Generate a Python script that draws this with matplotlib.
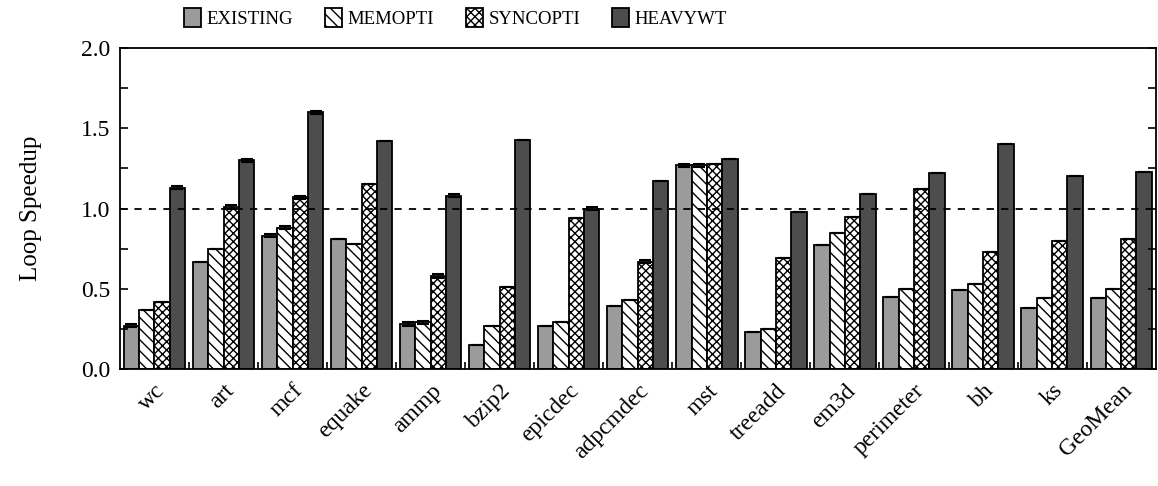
import numpy as np
import matplotlib.pyplot as plt
from matplotlib.ticker import MultipleLocator, FixedLocator

plt.rcParams['font.family'] = ['Liberation Serif', 'DejaVu Serif']
plt.rcParams['hatch.linewidth'] = 1.0

benchmarks = ["wc", "art", "mcf", "equake", "ammp", "bzip2", "epicdec", "adpcmdec",
              "mst", "treeadd", "em3d", "perimeter", "bh", "ks", "GeoMean"]
series = ["EXISTING", "MEMOPTI", "SYNCOPTI", "HEAVYWT"]

existing = [0.27, 0.67, 0.83, 0.81, 0.28, 0.15, 0.27, 0.39, 1.27, 0.23, 0.77, 0.45, 0.49, 0.38, 0.44]
memopti  = [0.37, 0.75, 0.88, 0.78, 0.29, 0.27, 0.29, 0.43, 1.27, 0.25, 0.85, 0.50, 0.53, 0.44, 0.50]
syncopti = [0.42, 1.01, 1.07, 1.15, 0.58, 0.51, 0.94, 0.67, 1.28, 0.69, 0.95, 1.12, 0.73, 0.80, 0.81]
heavywt  = [1.13, 1.30, 1.60, 1.42, 1.08, 1.43, 1.00, 1.17, 1.31, 0.98, 1.09, 1.22, 1.40, 1.20, 1.23]

# small error bars
existing_err = [0.01, 0.0, 0.01, 0.0, 0.01, 0.0, 0.0, 0.0, 0.01, 0.0, 0.0, 0.0, 0.0, 0.0, 0.0]
memopti_err  = [0.0, 0.0, 0.01, 0.0, 0.01, 0.0, 0.0, 0.0, 0.01, 0.0, 0.0, 0.0, 0.0, 0.0, 0.0]
syncopti_err = [0.0, 0.01, 0.01, 0.0, 0.01, 0.0, 0.0, 0.01, 0.0, 0.0, 0.0, 0.0, 0.0, 0.0, 0.0]
heavywt_err  = [0.01, 0.01, 0.01, 0.0, 0.01, 0.0, 0.01, 0.0, 0.0, 0.0, 0.0, 0.0, 0.0, 0.0, 0.0]

values = [existing, memopti, syncopti, heavywt]
errors = [existing_err, memopti_err, syncopti_err, heavywt_err]
colors = ["#9b9b9b", "white", "white", "#4d4d4d"]
hatches = [None, "\\\\\\", "xxxx", None]

fig = plt.figure(figsize=(11.58, 4.86), dpi=100)
ax = fig.add_axes([0.1036, 0.2407, 0.8944, 0.6603])

x = np.arange(len(benchmarks))
w = 0.222
for i, (vals, errs) in enumerate(zip(values, errors)):
    ax.bar(x + (i - 1.5) * w, vals, w, color=colors[i], edgecolor="black",
           linewidth=1.3, hatch=hatches[i], label=series[i],
           yerr=errs, error_kw=dict(ecolor="black", capsize=4, elinewidth=1.2, capthick=1.5))

ax.axhline(1.0, color="black", linestyle=(0, (4, 4)), linewidth=1.3)

ax.set_xlim(-0.5, len(benchmarks) - 0.5)
ax.set_ylim(0, 2.0)
ax.yaxis.set_major_locator(MultipleLocator(0.5))
ax.yaxis.set_minor_locator(MultipleLocator(0.25))
ax.yaxis.set_major_formatter(plt.FormatStrFormatter("%.1f"))
ax.tick_params(axis="y", which="both", direction="in", length=6, width=1.2,
               right=True, labelsize=17, pad=7)
ax.set_xticks(x)
ax.set_xticklabels(benchmarks, rotation=45, ha="right", rotation_mode="anchor", fontsize=17)
ax.tick_params(axis="x", which="major", length=0, pad=8)
ax.xaxis.set_minor_locator(FixedLocator(np.arange(0.5, len(benchmarks) - 1, 1.0)))
ax.tick_params(axis="x", which="minor", direction="in", length=5, width=1.2)
for s in ax.spines.values():
    s.set_linewidth(1.3)
ax.set_ylabel("Loop Speedup", fontsize=18, labelpad=28)

ax.legend(loc="lower left", bbox_to_anchor=(0.053, 1.035), ncol=4, frameon=False,
          fontsize=13.5, handlelength=0.9, handleheight=1.2, handletextpad=0.3,
          columnspacing=1.7, borderaxespad=0.1)

fig.savefig("out.png", dpi=100)
